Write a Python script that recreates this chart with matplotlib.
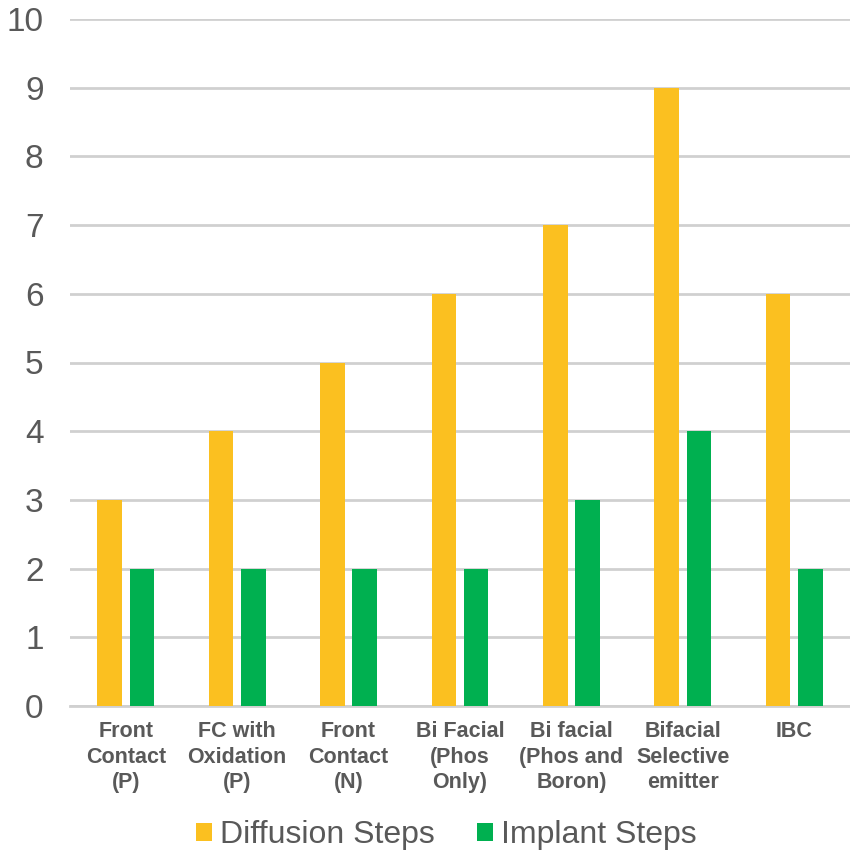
import matplotlib
matplotlib.use("Agg")
import matplotlib.pyplot as plt
import numpy as np
from matplotlib.patches import Patch

categories = [
    "Front\nContact\n(P)",
    "FC with\nOxidation\n(P)",
    "Front\nContact\n(N)",
    "Bi Facial\n(Phos\nOnly)",
    "Bi facial\n(Phos and\nBoron)",
    "Bifacial\nSelective\nemitter",
    "IBC",
]
diffusion_steps = [3, 4, 5, 6, 7, 9, 6]
implant_steps = [2, 2, 2, 2, 3, 4, 2]
series_names = ["Diffusion Steps", "Implant Steps"]
y_ticks = list(range(0, 11))

YELLOW = "#FBC020"
GREEN = "#00B050"
TEXT = "#595959"
GRID = "#D0D0D0"

plt.rcParams["font.family"] = ["Liberation Sans", "DejaVu Sans"]

fig = plt.figure(figsize=(8.5, 8.52), dpi=100)
ax = fig.add_axes([70 / 850, 1 - 706 / 852, 780 / 850, (706 - 19) / 852])

x = np.arange(len(categories))
w = 0.22
off = 0.145
ax.bar(x - off, diffusion_steps, width=w, color=YELLOW, linewidth=0, zorder=3)
ax.bar(x + off, implant_steps, width=w, color=GREEN, linewidth=0, zorder=3)

ax.set_xlim(-0.5, len(categories) - 0.5)
ax.set_ylim(0, 10)
ax.set_yticks(y_ticks)
ax.set_yticklabels([str(v) for v in y_ticks], fontsize=24, color=TEXT)
ax.set_xticks(x)
ax.set_xticklabels(categories, fontsize=15.5, fontweight="bold", color=TEXT,
                   linespacing=1.27, va="top")
ax.tick_params(axis="y", length=0, pad=19)
ax.tick_params(axis="x", length=0, pad=11)

ax.yaxis.grid(True, color=GRID, linewidth=2, zorder=0)
ax.set_axisbelow(True)
for s in ["top", "right", "left"]:
    ax.spines[s].set_visible(False)
ax.spines["bottom"].set_color(GRID)
ax.spines["bottom"].set_linewidth(2)

handles = [Patch(facecolor=YELLOW, edgecolor="none"),
           Patch(facecolor=GREEN, edgecolor="none")]
leg = fig.legend(handles, series_names, loc="center",
                 bbox_to_anchor=(0.525, 1 - 835 / 852), ncol=2, frameon=False,
                 fontsize=23, handlelength=0.5, handleheight=0.5,
                 handletextpad=0.25, columnspacing=1.3)
for t in leg.get_texts():
    t.set_color(TEXT)

fig.savefig("out.png", dpi=100)
